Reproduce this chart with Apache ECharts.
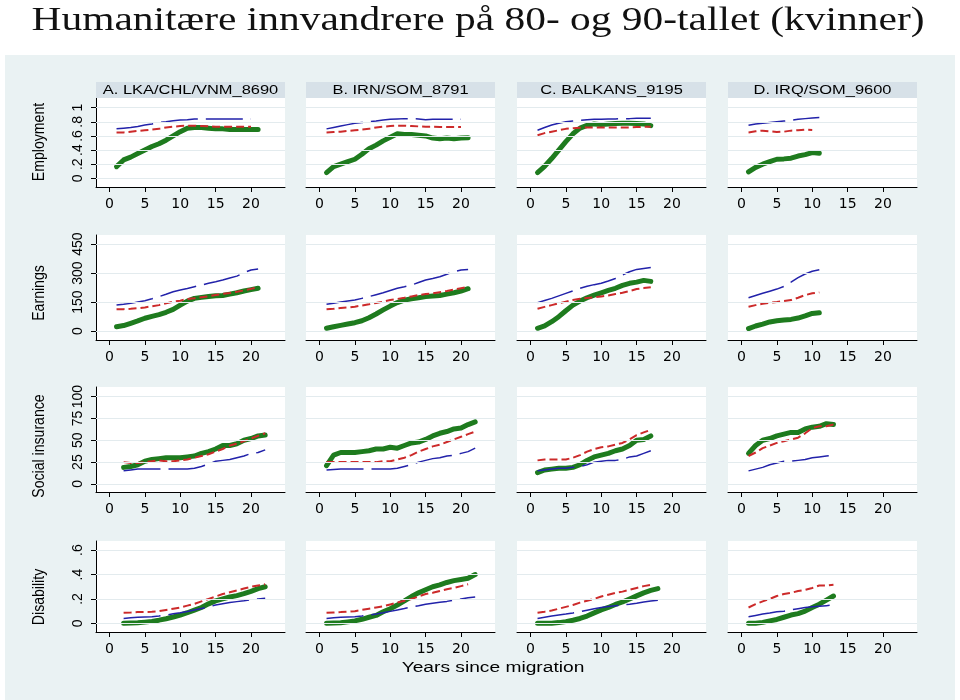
<!DOCTYPE html>
<html><head><meta charset="utf-8">
<script src="https://cdn.jsdelivr.net/npm/echarts@6/dist/echarts.min.js"></script>
<style>html,body{margin:0;padding:0;background:#fff}#c{width:960px;height:700px}</style>
</head><body><div id="c"></div>
<script>
// ---------------- DATA ----------------
const titleText = 'Humanitære innvandrere på 80- og 90-tallet (kvinner)';
const panelTitles = ['A. LKA/CHL/VNM_8690', 'B. IRN/SOM_8791', 'C. BALKANS_9195', 'D. IRQ/SOM_9600'];
const rowLabels = ['Employment', 'Earnings', 'Social insurance', 'Disability'];
const xTitle = 'Years since migration';
const xTicks = [0, 5, 10, 15, 20];
const empTicks = [0, 0.2, 0.4, 0.6, 0.8, 1];
const empTickLabels = ['0', '.2', '.4', '.6', '.8', '1'];
const earnTicks = [0, 150, 300, 450];
const earnTickLabels = ['0', '150', '300', '450'];
const socTicks = [0, 25, 50, 75, 100];
const socTickLabels = ['0', '25', '50', '75', '100'];
const disTicks = [0, 0.2, 0.4, 0.6];
const disTickLabels = ['0', '.2', '.4', '.6'];

// Employment
const emp_A_years = [1,2,3,4,5,6,7,8,9,10,11,12,13,14,15,16,17,18,19,20,21];
const emp_A_green = [.165,.26,.30,.35,.40,.45,.49,.54,.60,.66,.71,.72,.72,.71,.70,.70,.69,.69,.69,.69,.69];
const emp_A_red   = [.65,.65,.66,.67,.68,.69,.70,.72,.73,.74,.745,.745,.74,.735,.73,.73,.73,.73,.73,.73,null];
const emp_A_blue  = [.70,.71,.72,.735,.755,.77,.79,.80,.815,.825,.83,.84,.84,.84,.84,.84,.84,.84,.84,.84,null];
const emp_B_years = [1,2,3,4,5,6,7,8,9,10,11,12,13,14,15,16,17,18,19,20,21];
const emp_B_green = [.08,.165,.20,.235,.27,.34,.42,.47,.53,.58,.63,.62,.62,.61,.60,.57,.56,.57,.56,.57,.575];
const emp_B_red   = [.65,.655,.66,.67,.68,.69,.70,.72,.73,.74,.745,.745,.74,.735,.73,.73,.725,.725,.725,.725,null];
const emp_B_blue  = [.70,.72,.74,.76,.78,.79,.80,.81,.825,.835,.84,.845,.845,.84,.83,.835,.835,.835,.835,.835,null];
const emp_C_years = [1,2,3,4,5,6,7,8,9,10,11,12,13,14,15,16,17];
const emp_C_green = [.08,.17,.28,.40,.52,.63,.71,.75,.77,.76,.77,.775,.78,.78,.775,.77,.745];
const emp_C_red   = [.61,.64,.66,.68,.70,.71,.715,.72,.72,.72,.72,.72,.72,.72,.725,.73,.73];
const emp_C_blue  = [.68,.72,.755,.78,.80,.81,.82,.83,.835,.835,.84,.84,.845,.845,.85,.85,.85];
const emp_D_years = [1,2,3,4,5,6,7,8,9,10,11];
const emp_D_green = [.09,.155,.20,.235,.27,.275,.285,.315,.335,.365,.355];
const emp_D_red   = [.65,.665,.675,.665,.655,.66,.675,.68,.69,.685,null];
const emp_D_blue  = [.75,.77,.78,.79,.80,.81,.82,.835,.845,.855,.86];

// Earnings
const earn_A_years = [1,2,3,4,5,6,7,8,9,10,11,12,13,14,15,16,17,18,19,20,21];
const earn_A_green = [22,28,40,52,66,76,85,97,112,134,155,169,174,179,183,184,191,198,207,214,221];
const earn_A_red   = [112,113,115,118,122,128,134,143,152,157,166,169,175,180,186,192,197,203,210,218,226];
const earn_A_blue  = [134,138,143,150,157,167,178,190,203,212,220,229,238,247,255,264,274,284,302,316,321];
const earn_B_years = [1,2,3,4,5,6,7,8,9,10,11,12,13,14,15,16,17,18,19,20,21];
const earn_B_green = [14,22,29,36,43,53,69,88,109,129,147,160,167,172,178,181,184,191,198,207,219];
const earn_B_red   = [112,115,119,122,126,132,138,145,152,160,166,172,179,186,191,195,201,207,214,221,228];
const earn_B_blue  = [138,144,150,155,160,169,178,188,198,210,221,229,238,251,264,272,281,294,307,316,319];
const earn_C_years = [1,2,3,4,5,6,7,8,9,10,11,12,13,14,15,16,17];
const earn_C_green = [14,26,48,74,105,134,155,172,186,198,210,221,236,247,253,262,257];
const earn_C_red   = [115,125,134,143,152,160,167,171,174,179,184,191,198,207,217,222,226];
const earn_C_blue  = [147,158,169,182,195,208,221,232,240,247,259,272,290,307,319,324,329];
const earn_D_years = [1,2,3,4,5,6,7,8,9,10,11];
const earn_D_green = [12,26,36,47,53,57,60,67,78,91,95];
const earn_D_red   = [126,134,141,146,150,155,160,172,186,195,200];
const earn_D_blue  = [172,184,195,206,217,231,253,276,295,309,317];

// Social insurance
const soc_A_years = [2,3,4,5,6,7,8,9,10,11,12,13,14,15,16,17,18,19,20,21,22];
const soc_A_green = [19,20,22,26,28,29,30,30,30,31,32,35,37,40,44,44,46,50,52,55,56];
const soc_A_red   = [25,24,24,25,26,27,26,26,27,28,30,32,34,37,40,44,46,49,52,55,58];
const soc_A_blue  = [15,16,17,17,17,17,17,17,17,17,18,20,23,26,27,28,30,32,35,36,39];
const soc_B_years = [1,2,3,4,5,6,7,8,9,10,11,12,13,14,15,16,17,18,19,20,21,22];
const soc_B_green = [21,33,36,36,36,37,38,40,40,42,41,44,47,48,51,55,58,60,63,64,68,71];
const soc_B_red   = [25,25,25,25,25,25,25,25,26,26,28,30,33,37,40,43,45,48,51,54,57,60];
const soc_B_blue  = [16,16.5,17,17,17,17,17,17,17,17,18,20,22,25,27,29,30,32,33,35,37,41];
const soc_C_years = [1,2,3,4,5,6,7,8,9,10,11,12,13,14,15,16,17];
const soc_C_green = [13,16,17,18,18,19,22,27,31,33,35,38,40,44,50,51,55];
const soc_C_red   = [27,28,28,28,28,30,33,37,40,42,43,45,47,51,56,59,62];
const soc_C_blue  = [15,16,17,18,18,19,20,22,25,26,27,27,28,31,32,35,38];
const soc_D_years = [1,2,3,4,5,6,7,8,9,10,11,12,13];
const soc_D_green = [35,44,50,52,55,57,59,59,63,65,66,69,68];
const soc_D_red   = [32,36,41,44,47,49,51,53,58,64,66,66,68];
const soc_D_blue  = [15,17,19,22,24,26,26,27,28,30,31,32,33];

// Disability
const dis_A_years = [2,3,4,5,6,7,8,9,10,11,12,13,14,15,16,17,18,19,20,21,22];
const dis_A_green = [0,.002,.005,.01,.016,.026,.038,.052,.068,.087,.108,.13,.16,.184,.20,.216,.227,.243,.262,.284,.30];
const dis_A_red   = [.086,.088,.092,.093,.095,.10,.11,.12,.13,.145,.16,.18,.20,.22,.24,.255,.27,.285,.30,.31,.32];
const dis_A_blue  = [.04,.045,.05,.052,.054,.06,.068,.078,.086,.097,.11,.122,.135,.15,.16,.17,.178,.185,.195,.20,.205];
const dis_B_years = [1,2,3,4,5,6,7,8,9,10,11,12,13,14,15,16,17,18,19,20,21,22];
const dis_B_green = [0,.002,.005,.012,.02,.033,.05,.065,.095,.12,.15,.184,.22,.25,.275,.30,.315,.335,.35,.36,.37,.40];
const dis_B_red   = [.086,.089,.092,.096,.10,.11,.12,.13,.14,.155,.17,.185,.20,.22,.24,.25,.265,.28,.29,.305,.32,null];
const dis_B_blue  = [.04,.045,.05,.052,.054,.06,.068,.076,.086,.098,.11,.122,.135,.145,.157,.165,.173,.18,.19,.20,.21,.216];
const dis_C_years = [1,2,3,4,5,6,7,8,9,10,11,12,13,14,15,16,17,18];
const dis_C_green = [0,0,0,.006,.014,.025,.04,.06,.086,.11,.13,.155,.175,.20,.225,.25,.27,.285];
const dis_C_red   = [.086,.095,.105,.12,.135,.15,.17,.185,.20,.22,.235,.25,.26,.275,.29,.305,.315,null];
const dis_C_blue  = [.04,.05,.06,.068,.076,.085,.095,.108,.12,.13,.138,.145,.15,.157,.165,.175,.183,.19];
const dis_D_years = [1,2,3,4,5,6,7,8,9,10,11,12,13];
const dis_D_green = [0,0,.008,.02,.032,.05,.068,.08,.10,.13,.157,.19,.224];
const dis_D_red   = [.13,.157,.18,.20,.224,.24,.25,.265,.275,.29,.31,.31,.316];
const dis_D_blue  = [.054,.065,.076,.085,.095,.10,.11,.12,.13,.135,.14,.145,.15];

// ---------------- BUILD ----------------
const rows = [
  { ticks: empTicks, labels: empTickLabels, min: -0.123, max: 1.137,
    panels: [[emp_A_years, emp_A_green, emp_A_red, emp_A_blue], [emp_B_years, emp_B_green, emp_B_red, emp_B_blue],
             [emp_C_years, emp_C_green, emp_C_red, emp_C_blue], [emp_D_years, emp_D_green, emp_D_red, emp_D_blue]] },
  { ticks: earnTicks, labels: earnTickLabels, min: -46.6, max: 497,
    panels: [[earn_A_years, earn_A_green, earn_A_red, earn_A_blue], [earn_B_years, earn_B_green, earn_B_red, earn_B_blue],
             [earn_C_years, earn_C_green, earn_C_red, earn_C_blue], [earn_D_years, earn_D_green, earn_D_red, earn_D_blue]] },
  { ticks: socTicks, labels: socTickLabels, min: -9.2, max: 111,
    panels: [[soc_A_years, soc_A_green, soc_A_red, soc_A_blue], [soc_B_years, soc_B_green, soc_B_red, soc_B_blue],
             [soc_C_years, soc_C_green, soc_C_red, soc_C_blue], [soc_D_years, soc_D_green, soc_D_red, soc_D_blue]] },
  { ticks: disTicks, labels: disTickLabels, min: -0.071, max: 0.675,
    panels: [[dis_A_years, dis_A_green, dis_A_red, dis_A_blue], [dis_B_years, dis_B_green, dis_B_red, dis_B_blue],
             [dis_C_years, dis_C_green, dis_C_red, dis_C_blue], [dis_D_years, dis_D_green, dis_D_red, dis_D_blue]] }
];

const colLeft = [96, 306, 517, 728];
const colWidth = 189;
const rowTop = [98, 235, 387, 541];
const rowBottom = [187, 340, 492, 632];
const xMin = -1.9, xMax = 24.8;

const GREEN = '#1e7b1e', RED = '#cc2a2a', BLUE = '#2222aa', GRIDC = '#e3ebee';
const SANS = '"Liberation Sans", Arial, sans-serif';

function pairs(xs, ys) {
  const out = [];
  for (let i = 0; i < xs.length; i++) if (ys[i] !== null && ys[i] !== undefined) out.push([xs[i], ys[i]]);
  return out;
}

const grids = [], xAxes = [], yAxes = [], series = [];
rows.forEach((row, r) => {
  for (let c = 0; c < 4; c++) {
    const idx = r * 4 + c;
    grids.push({ left: colLeft[c], width: colWidth, top: rowTop[r], height: rowBottom[r] - rowTop[r],
      show: true, backgroundColor: '#ffffff', borderWidth: 0, containLabel: false });
    xAxes.push({ type: 'value', gridIndex: idx, min: xMin, max: xMax, position: 'bottom',
      axisLine: { show: true, onZero: false, lineStyle: { color: '#000', width: 1 } },
      axisTick: { show: true, length: 5, customValues: xTicks, lineStyle: { color: '#000' } },
      axisLabel: { show: true, customValues: xTicks, margin: 10, color: '#000', fontSize: 14, fontFamily: '"DejaVu Sans", sans-serif' },
      splitLine: { show: false } });
    const showY = c === 0;
    yAxes.push({ type: 'value', gridIndex: idx, min: row.min, max: row.max, position: 'left',
      axisLine: { show: showY, onZero: false, lineStyle: { color: '#000', width: 1 } },
      axisTick: { show: showY, length: 5, customValues: row.ticks, lineStyle: { color: '#000' } },
      axisLabel: { show: showY, customValues: row.ticks, rotate: 90, margin: 11, color: '#000', fontSize: 14, fontFamily: SANS,
        formatter: (v) => { for (let k = 0; k < row.ticks.length; k++) if (Math.abs(row.ticks[k] - v) < 1e-9) return row.labels[k]; return ''; } },
      splitLine: { show: false } });
    const p = row.panels[c];
    series.push({ type: 'line', xAxisIndex: idx, yAxisIndex: idx, data: [], silent: true, z: 1,
      markLine: { silent: true, symbol: ['none', 'none'], animation: false, label: { show: false },
        lineStyle: { color: GRIDC, width: 1, type: 'solid' }, emphasis: { disabled: true },
        data: row.ticks.map(t => ({ yAxis: t })) } });
    series.push({ name: 'green', type: 'line', xAxisIndex: idx, yAxisIndex: idx, data: pairs(p[0], p[1]),
      showSymbol: false, symbol: 'none', silent: true, z: 2, lineStyle: { color: GREEN, width: 5, cap: 'round', join: 'round' } });
    series.push({ name: 'red', type: 'line', xAxisIndex: idx, yAxisIndex: idx, data: pairs(p[0], p[2]),
      showSymbol: false, symbol: 'none', silent: true, z: 3, lineStyle: { color: RED, width: 2, type: [8, 4] } });
    series.push({ name: 'blue', type: 'line', xAxisIndex: idx, yAxisIndex: idx, data: pairs(p[0], p[3]),
      showSymbol: false, symbol: 'none', silent: true, z: 4, lineStyle: { color: BLUE, width: 1.5, type: [37, 8] } });
  }
});

// title width fitting
const ctx = document.createElement('canvas').getContext('2d');
const TITLE_FONT_SIZE = 34;
ctx.font = TITLE_FONT_SIZE + 'px "Liberation Serif"';
const titleW = ctx.measureText(titleText).width;
const titleScale = 893 / titleW;

const graphics = [
  { type: 'rect', z: -100, shape: { x: 5, y: 55, width: 950, height: 645 }, style: { fill: '#eaf2f3' }, silent: true },
  { type: 'text', z: 100, x: 478, y: 21, scaleX: titleScale,
    style: { text: titleText, font: TITLE_FONT_SIZE + 'px "Liberation Serif"', fill: '#111', align: 'center', verticalAlign: 'middle', textAlign: 'center', textVerticalAlign: 'middle' } },
  { type: 'text', z: 100, x: 493, y: 668, scaleX: 1.37,
    style: { text: xTitle, font: '14px ' + SANS, fill: '#000', align: 'center', verticalAlign: 'middle', textAlign: 'center', textVerticalAlign: 'middle' } }
];
panelTitles.forEach((t, c) => {
  graphics.push({ type: 'rect', z: 5, shape: { x: colLeft[c], y: 82, width: colWidth, height: 16 }, style: { fill: '#d7e1e8' }, silent: true });
  graphics.push({ type: 'text', z: 100, x: colLeft[c] + colWidth / 2, y: 90.5, scaleX: 1.37,
    style: { text: t, font: '12px ' + SANS, fill: '#000', align: 'center', verticalAlign: 'middle', textAlign: 'center', textVerticalAlign: 'middle' } });
});
const rowLabelY = [142, 293, 446, 597];
rowLabels.forEach((t, r) => {
  graphics.push({ type: 'text', z: 100, x: 40, y: rowLabelY[r], rotation: Math.PI / 2, scaleX: 0.88,
    style: { text: t, font: '16px ' + SANS, fill: '#000', align: 'center', verticalAlign: 'middle', textAlign: 'center', textVerticalAlign: 'middle' } });
});

const chart = echarts.init(document.getElementById('c'), null, { renderer: 'canvas', width: 960, height: 700 });
chart.setOption({
  animation: false,
  backgroundColor: '#ffffff',
  grid: grids, xAxis: xAxes, yAxis: yAxes, series: series,
  graphic: { elements: graphics }
});
</script></body></html>
